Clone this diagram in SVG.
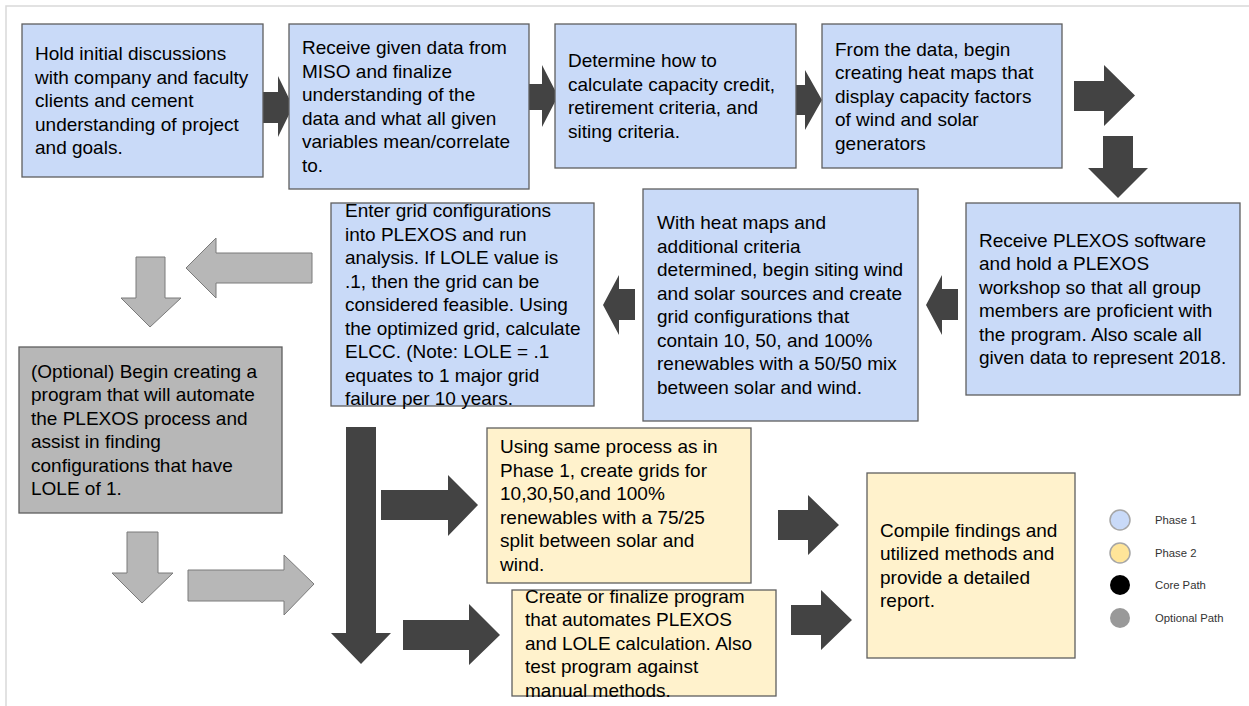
<svg xmlns="http://www.w3.org/2000/svg" width="1249" height="706" viewBox="0 0 1249 706">
<style>
.frame{fill:none;stroke:#d9d9d9;stroke-width:1.5}
.box{stroke:#5f5f5f;stroke-width:1.3}
.p1{fill:#c9daf8}
.p2{fill:#fff2cc}
.opt{fill:#b7b7b7}
.t{font-family:"Liberation Sans",Arial,sans-serif;font-size:19px;fill:#000}
.dark{fill:#434343}
.light{fill:#b7b7b7;stroke:#7a7a7a;stroke-width:1}
.lg{font-family:"Liberation Sans",Arial,sans-serif;font-size:11.3px;fill:#333}
</style>
<rect width="1249" height="706" fill="#ffffff"/>
<rect class="frame" x="6" y="6" width="1260" height="720"/>

<g id="connectors">
<polygon class="dark" points="263,92 278,92 278,76 293,106.5 278,137 278,123 263,123"/>
<polygon class="dark" points="526,84 542,84 542,65 558,96 542,127 542,110 526,110"/>
<polygon class="dark" points="790,85 805,85 805,70 822,100 805,130 805,115 790,115"/>
<polygon class="dark" points="1074,81 1104,81 1104,65 1135,95.5 1104,126 1104,111 1074,111"/>
<polygon class="dark" points="1103,136 1133,136 1133,168 1148,168 1118,198 1088,168 1103,168"/>
<polygon class="dark" points="958,289 942,289 942,275 926,305 942,335 942,320 958,320"/>
<polygon class="dark" points="635,289 619,289 619,275 603,305 619,335 619,320 635,320"/>
<polygon class="light" points="312,253 216,253 216,238 186,268 216,298 216,283 312,283"/>
<polygon class="light" points="136,257 165,257 165,298 181,298 150,327 121,298 136,298"/>
<polygon class="light" points="127,532 158,532 158,573 173,573 142,603 112,573 127,573"/>
<polygon class="light" points="188,570 284,570 284,555 314,584 284,615 284,601 188,601"/>
<polygon class="dark" points="346,427 376,427 376,633 391,633 361,664 331,633 346,633"/>
<polygon class="dark" points="381,490 448,490 448,475 478,505 448,536 448,520 381,520"/>
<polygon class="dark" points="403,620 469,620 469,604 500,635 469,665 469,650 403,650"/>
<polygon class="dark" points="778,510 808,510 808,495 839,525 808,555 808,540 778,540"/>
<polygon class="dark" points="791,605 821,605 821,590 852,620 821,650 821,635 791,635"/>
</g>

<g id="n1">
<rect class="box p1" x="22" y="24" width="241" height="153"/>
<text class="t"><tspan x="35" y="60.1">Hold initial discussions</tspan><tspan x="35" y="83.6">with company and faculty</tspan><tspan x="35" y="107.1">clients and cement</tspan><tspan x="35" y="130.6">understanding of project</tspan><tspan x="35" y="154.1">and goals.</tspan></text>
</g>
<g id="n2">
<rect class="box p1" x="289" y="24" width="240" height="165"/>
<text class="t"><tspan x="302" y="54.35">Receive given data from</tspan><tspan x="302" y="77.85">MISO and finalize</tspan><tspan x="302" y="101.35">understanding of the</tspan><tspan x="302" y="124.85">data and what all given</tspan><tspan x="302" y="148.35">variables mean/correlate</tspan><tspan x="302" y="171.85">to.</tspan></text>
</g>
<g id="n3">
<rect class="box p1" x="555" y="24" width="241" height="144"/>
<text class="t"><tspan x="568" y="67.35">Determine how to</tspan><tspan x="568" y="90.85">calculate capacity credit,</tspan><tspan x="568" y="114.35">retirement criteria, and</tspan><tspan x="568" y="137.85">siting criteria.</tspan></text>
</g>
<g id="n4">
<rect class="box p1" x="822" y="24" width="240" height="144"/>
<text class="t"><tspan x="835" y="55.6">From the data, begin</tspan><tspan x="835" y="79.1">creating heat maps that</tspan><tspan x="835" y="102.6">display capacity factors</tspan><tspan x="835" y="126.1">of wind and solar</tspan><tspan x="835" y="149.6">generators</tspan></text>
</g>
<g id="n5">
<rect class="box p1" x="966" y="203" width="274" height="192"/>
<text class="t"><tspan x="979" y="246.85">Receive PLEXOS software</tspan><tspan x="979" y="270.35">and hold a PLEXOS</tspan><tspan x="979" y="293.85">workshop so that all group</tspan><tspan x="979" y="317.35">members are proficient with</tspan><tspan x="979" y="340.85">the program. Also scale all</tspan><tspan x="979" y="364.35">given data to represent 2018.</tspan></text>
</g>
<g id="n6">
<rect class="box p1" x="643" y="189" width="275" height="232"/>
<text class="t"><tspan x="657" y="229.35">With heat maps and</tspan><tspan x="657" y="252.85">additional criteria</tspan><tspan x="657" y="276.35">determined, begin siting wind</tspan><tspan x="657" y="299.85">and solar sources and create</tspan><tspan x="657" y="323.35">grid configurations that</tspan><tspan x="657" y="346.85">contain 10, 50, and 100%</tspan><tspan x="657" y="370.35">renewables with a 50/50 mix</tspan><tspan x="657" y="393.85">between solar and wind.</tspan></text>
</g>
<g id="n7">
<rect class="box p1" x="331" y="203" width="263" height="203"/>
<text class="t"><tspan x="345" y="217.1">Enter grid configurations</tspan><tspan x="345" y="240.6">into PLEXOS and run</tspan><tspan x="345" y="264.1">analysis. If LOLE value is</tspan><tspan x="345" y="287.6">.1, then the grid can be</tspan><tspan x="345" y="311.1">considered feasible. Using</tspan><tspan x="345" y="334.6">the optimized grid, calculate</tspan><tspan x="345" y="358.1">ELCC. (Note: LOLE = .1</tspan><tspan x="345" y="381.6">equates to 1 major grid</tspan><tspan x="345" y="405.1">failure per 10 years.</tspan></text>
</g>
<g id="n8">
<rect class="box opt" x="19" y="347" width="263" height="166"/>
<text class="t"><tspan x="31" y="377.85">(Optional) Begin creating a</tspan><tspan x="31" y="401.35">program that will automate</tspan><tspan x="31" y="424.85">the PLEXOS process and</tspan><tspan x="31" y="448.35">assist in finding</tspan><tspan x="31" y="471.85">configurations that have</tspan><tspan x="31" y="495.35">LOLE of 1.</tspan></text>
</g>
<g id="n9">
<rect class="box p2" x="487" y="428" width="264" height="155"/>
<text class="t"><tspan x="500" y="453.35">Using same process as in</tspan><tspan x="500" y="476.85">Phase 1, create grids for</tspan><tspan x="500" y="500.35">10,30,50,and 100%</tspan><tspan x="500" y="523.85">renewables with a 75/25</tspan><tspan x="500" y="547.35">split between solar and</tspan><tspan x="500" y="570.85">wind.</tspan></text>
</g>
<g id="n10">
<rect class="box p2" x="512" y="590" width="264" height="106"/>
<text class="t"><tspan x="525" y="602.6">Create or finalize program</tspan><tspan x="525" y="626.1">that automates PLEXOS</tspan><tspan x="525" y="649.6">and LOLE calculation. Also</tspan><tspan x="525" y="673.1">test program against</tspan><tspan x="525" y="696.6">manual methods.</tspan></text>
</g>
<g id="n11">
<rect class="box p2" x="867" y="473" width="208" height="185"/>
<text class="t"><tspan x="880" y="536.85">Compile findings and</tspan><tspan x="880" y="560.35">utilized methods and</tspan><tspan x="880" y="583.85">provide a detailed</tspan><tspan x="880" y="607.35">report.</tspan></text>
</g>

<g id="legend">
<circle cx="1120" cy="520" r="10" fill="#c9daf8" stroke="#a6a6a6" stroke-width="1.5"/>
<circle cx="1120" cy="553" r="10" fill="#ffe599" stroke="#a6a6a6" stroke-width="1.5"/>
<circle cx="1120" cy="585" r="10" fill="#000000"/>
<circle cx="1120" cy="618" r="10" fill="#999999"/>
<text class="lg" x="1155" y="524">Phase 1</text>
<text class="lg" x="1155" y="557">Phase 2</text>
<text class="lg" x="1155" y="589">Core Path</text>
<text class="lg" x="1155" y="622">Optional Path</text>
</g>
</svg>
